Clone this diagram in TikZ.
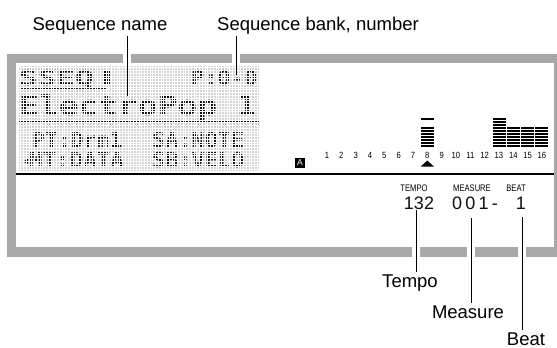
\documentclass[tikz,border=0pt]{standalone}
\usepackage{fontspec}
\usepackage{graphicx}
\setmainfont{Liberation Sans}
\newfontfamily\lcdfont{DejaVu Sans Mono}
\newfontfamily\segwide[LetterSpace=18]{Liberation Sans}
\definecolor{framegray}{HTML}{A8A8A8}
\definecolor{lcddot}{HTML}{D4D4D4}
\definecolor{lcdink}{HTML}{101010}

\begin{document}
\begin{tikzpicture}[
      x=1pt, y=-1pt,
      callout/.style={font=\fontsize{18.5}{22}\selectfont, anchor=base, inner sep=2pt},
      leader/.style={draw=black, line width=1pt},
      lcdbig/.style={font=\lcdfont\bfseries\fontsize{27.4}{30}\selectfont, text=lcdink, anchor=base west, inner sep=0pt},
      lcdsmall/.style={font=\lcdfont\bfseries\fontsize{20.6}{22}\selectfont, text=lcdink, anchor=base west, inner sep=0pt},
      chnum/.style={font=\fontsize{9}{10}\selectfont, anchor=base, inner sep=0pt},
      segtitle/.style={font=\fontsize{9.5}{10}\selectfont, anchor=base, inner sep=0pt},
      segdigit/.style={font=\fontsize{18}{20}\selectfont, text=lcdink, anchor=base, inner sep=0pt},
      gridline/.style={white, line width=0.75pt},
    ]
    \useasboundingbox (0,0) rectangle (557,348);

    % -------------------------------------------------------
    %  Display frame
    % -------------------------------------------------------
    \fill[framegray] (7,54) rectangle (557,257);
    \fill[white] (16,63) rectangle (554,247);
    % gaps where the leaders cross the frame
    \foreach \gx in {127, 236} {
      \fill[white] (\gx-4,53) rectangle (\gx+4,63.5);
    }
    \foreach \gx in {416, 471, 522} {
      \fill[white] (\gx-4,246.5) rectangle (\gx+4,258);
    }

    % -------------------------------------------------------
    %  Dot matrix area
    % -------------------------------------------------------
    \fill[lcddot] (18,65) rectangle (259,171);
    \node[lcdsmall] (lcdtitle) at (19,85) {\scalebox{1.5}[1]{SSEQ}};
    \fill[lcdink] (103,70) rectangle (110,85);
    \fill[lcdink] (20,88) rectangle (107,90.2);
    \node[lcdsmall] (lcdslot) at (191,85) {\scalebox{1.07}[1]{P:0-0}};
    \node[lcdbig] (lcdname) at (19,115) {\scalebox{1.2}[1]{ElectroPop 1}};
    \fill[lcdink] (18,121) rectangle (259,123);
    \node[lcdsmall] (lcdpt) at (32,147) {\scalebox{1.04}[1]{PT:Drm1}};
    \node[lcdsmall] (lcdsa) at (152,147) {\scalebox{1.06}[1]{SA:NOTE}};
    \fill[lcdink] (23.5,161.5) -- (28,158.5) -- (28,164.5) -- cycle;
    \node[lcdsmall] (lcdmt) at (29,167) {\scalebox{1.09}[1]{MT:DATA}};
    \node[lcdsmall] (lcdsb) at (152,167) {\scalebox{1.06}[1]{SB:VELO}};
    % dot grid over the whole block
    \foreach \k in {0,...,88} {
      \draw[gridline] (18+\k*2.75,65) -- ++(0,106);
    }
    \foreach \k in {0,...,38} {
      \draw[gridline] (18,65+\k*2.75) -- ++(241,0);
    }

    % -------------------------------------------------------
    %  Part meters
    % -------------------------------------------------------
    \node[fill=black, text=white, font=\fontsize{8.5}{9}\selectfont,
      minimum width=10pt, minimum height=10pt, inner sep=0pt] (partA) at (300,162.5) {A};
    \foreach \i in {1,...,16} {
      \node[chnum] (ch\i) at ({327+(\i-1)*14.33},158.5) {\scalebox{0.85}[1]{\i}};
    }
    % part 8
    \foreach \k in {0,...,6} {
      \fill (420.8,145-3*\k) rectangle ++(13,2);
    }
    \fill (420.8,118) rectangle ++(13,2);
    \fill (420.8,166.5) -- (433.8,166.5) -- (427.3,160.5) -- cycle;
    % part 13
    \foreach \k in {0,...,9} {
      \fill (492.5,145-3*\k) rectangle ++(13,2);
    }
    % parts 14-16
    \foreach \b in {14,15,16} {
      \foreach \k in {0,...,6} {
        \fill ({327+(\b-1)*14.33-6.5},145-3*\k) rectangle ++(13,2);
      }
    }

    \draw[line width=2pt] (16,174) -- (554,174);

    % -------------------------------------------------------
    %  Tempo / measure / beat readout
    % -------------------------------------------------------
    \node[segtitle] (tempohd) at (414,191) {\scalebox{0.8}[1]{TEMPO}};
    \node[segtitle] (measurehd) at (472,191) {\scalebox{0.8}[1]{MEASURE}};
    \node[segtitle] (beathd) at (516,191) {\scalebox{0.8}[1]{BEAT}};
    \node[segdigit] (tempoval) at (419,209) {132};
    \node[segdigit, font=\segwide\fontsize{18}{20}\selectfont, anchor=base west] (measureval) at (452,209) {001-};
    \node[segdigit] (beatval) at (521,209) {1};

    % -------------------------------------------------------
    %  Callouts
    % -------------------------------------------------------
    \coordinate (nameTip) at (127,96);
    \coordinate (bankTip) at (236,75);
    \coordinate (tempoTip) at (416,210);
    \coordinate (measureTip) at (471,218);
    \coordinate (beatTip) at (522,217);

    \node[callout] (seqname) at (100,30) {Sequence name};
    \node[callout] (seqbank) at (318,30) {Sequence bank, number};
    \node[callout] (tempolbl) at (410,287) {Tempo};
    \node[callout] (measurelbl) at (468,318) {Measure};
    \node[callout] (beatlbl) at (526,345) {Beat};

    \draw[leader] (nameTip |- seqname.south) -- (nameTip);
    \draw[leader] (bankTip |- seqbank.south) -- (bankTip);
    \draw[leader] (tempoTip) -- (tempoTip |- tempolbl.north);
    \draw[leader] (measureTip) -- (measureTip |- measurelbl.north);
    \draw[leader] (beatTip) -- (beatTip |- beatlbl.north);

  \end{tikzpicture}
\end{document}
